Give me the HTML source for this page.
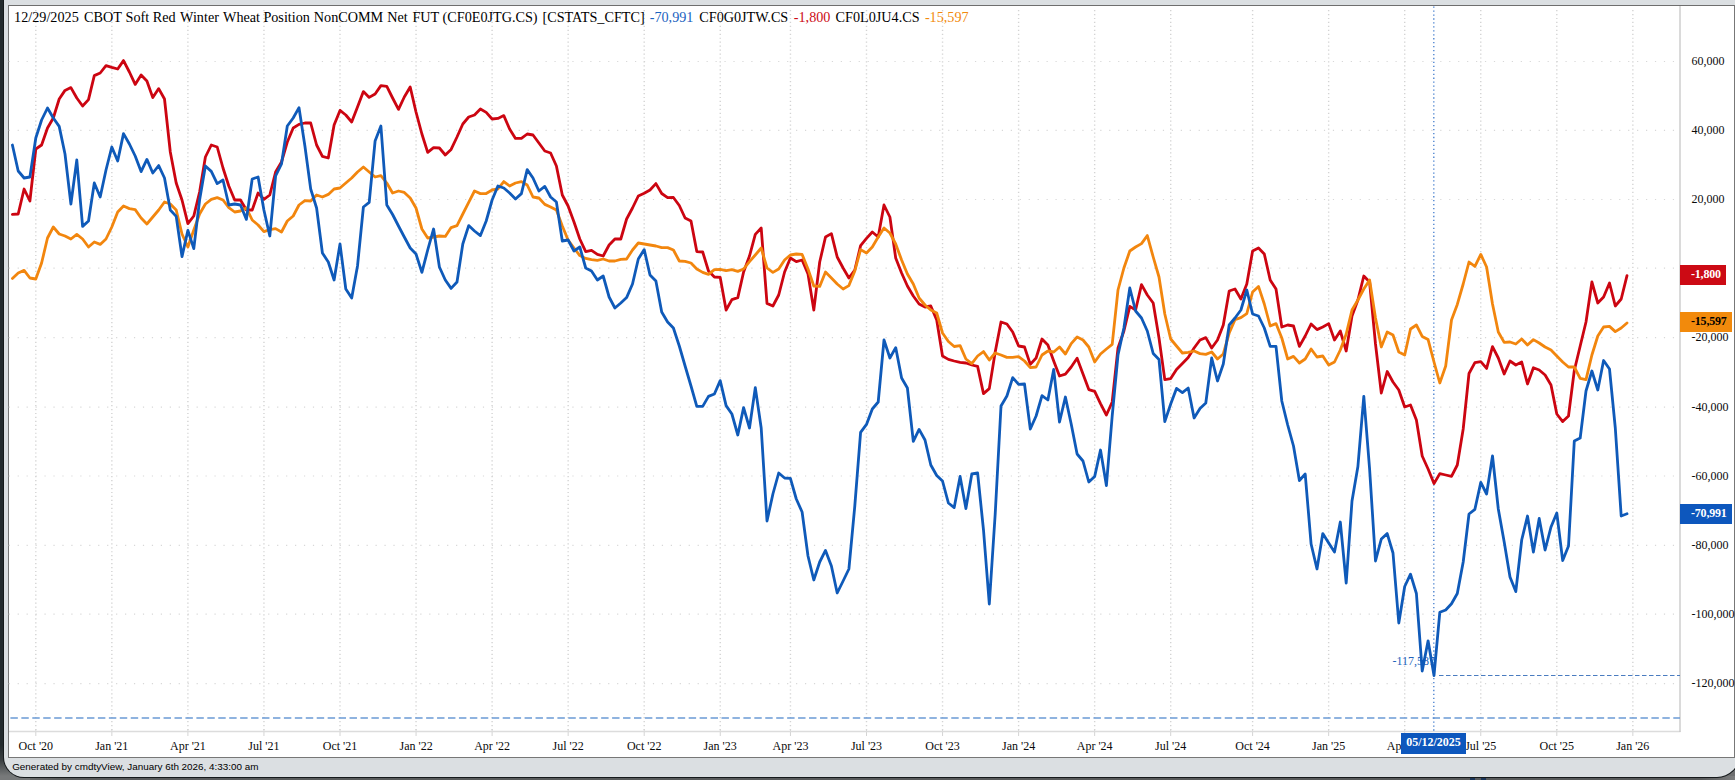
<!DOCTYPE html>
<html><head><meta charset="utf-8"><title>cmdtyView chart</title>
<style>
html,body{margin:0;padding:0}
body{width:1735px;height:780px;overflow:hidden;background:#6e6f70;position:relative;font-family:"Liberation Serif","Times New Roman",serif;}
#win{position:absolute;left:3.8px;top:-2px;width:1735.5px;height:778.7px;background:#dbdfe2;border-radius:0 0 22px 20px;box-shadow:0 0 0 1px #15191b;}
#dark{position:absolute;left:0;top:0;width:30px;height:780px;background:linear-gradient(to bottom,#232a2d 0,#232a2d 745px,#3a3f41 760px,#77797a 776px,#77797a 780px)}
#shade{position:absolute;left:0;top:776px;width:1735px;height:4px;background:linear-gradient(to right,#77797a 0,#5a5c5d 60px,#585a5b 1700px,#7d7e7f 1735px)}
#panel{position:absolute;left:8px;top:5px;width:1726.5px;height:753px;background:#fff;border:1px solid #777;border-top-color:#6e6e6e;box-sizing:border-box}
#title{position:absolute;left:0;top:8.5px;font-size:14.2px;line-height:16px;white-space:pre;color:#000}
#title span{position:absolute;top:0}
.yl{position:absolute;left:1691.5px;font-size:12px;line-height:15px;color:#0a0a0a;white-space:pre}
.xl{position:absolute;top:738.8px;width:80px;text-align:center;font-size:12px;line-height:15px;color:#0a0a0a;white-space:pre}
.badge{position:absolute;left:1680px;height:20px;font-size:12px;font-weight:bold;line-height:18px;box-sizing:border-box;padding-left:11px;white-space:pre;letter-spacing:-0.2px}
#foot{position:absolute;left:12.2px;top:760.3px;font-family:"Liberation Sans",Arial,sans-serif;font-size:9.9px;line-height:13px;color:#000;white-space:pre}
#datebadge{position:absolute;left:1401px;top:733px;width:65px;height:20.5px;background:#0d57bd;color:#fff;font-weight:bold;font-size:12px;line-height:19px;text-align:center;white-space:pre}
#low{position:absolute;left:1392.5px;top:654px;font-size:12px;line-height:15px;color:#1a5cb8;white-space:pre}
</style></head><body>
<div id="shade"></div><div id="dark"></div><div id="win"></div>
<div id="panel"></div>
<svg width="1735" height="780" viewBox="0 0 1735 780" style="position:absolute;left:0;top:0"><line x1="8.7" x2="1676" y1="61.5" y2="61.5" stroke="#d8d8d8" stroke-width="1.2" stroke-dasharray="1.2 7.747"/><line x1="8.7" x2="1676" y1="130.3" y2="130.3" stroke="#d8d8d8" stroke-width="1.2" stroke-dasharray="1.2 7.747"/><line x1="8.7" x2="1676" y1="199.5" y2="199.5" stroke="#d8d8d8" stroke-width="1.2" stroke-dasharray="1.2 7.747"/><line x1="8.7" x2="1676" y1="268.2" y2="268.2" stroke="#d8d8d8" stroke-width="1.2" stroke-dasharray="1.2 7.747"/><line x1="8.7" x2="1676" y1="337.6" y2="337.6" stroke="#d8d8d8" stroke-width="1.2" stroke-dasharray="1.2 7.747"/><line x1="8.7" x2="1676" y1="407.2" y2="407.2" stroke="#d8d8d8" stroke-width="1.2" stroke-dasharray="1.2 7.747"/><line x1="8.7" x2="1676" y1="476" y2="476" stroke="#d8d8d8" stroke-width="1.2" stroke-dasharray="1.2 7.747"/><line x1="8.7" x2="1676" y1="545.3" y2="545.3" stroke="#d8d8d8" stroke-width="1.2" stroke-dasharray="1.2 7.747"/><line x1="8.7" x2="1676" y1="614.2" y2="614.2" stroke="#d8d8d8" stroke-width="1.2" stroke-dasharray="1.2 7.747"/><line x1="8.7" x2="1676" y1="683.7" y2="683.7" stroke="#d8d8d8" stroke-width="1.2" stroke-dasharray="1.2 7.747"/><line x1="35.8" x2="35.8" y1="10" y2="731" stroke="#d3d3d3" stroke-width="1.4" stroke-dasharray="1.2 2.75"/><line x1="35.8" x2="35.8" y1="729" y2="736" stroke="#d4d4d4" stroke-width="1"/><line x1="111.85" x2="111.85" y1="10" y2="731" stroke="#d3d3d3" stroke-width="1.4" stroke-dasharray="1.2 2.75"/><line x1="111.85" x2="111.85" y1="729" y2="736" stroke="#d4d4d4" stroke-width="1"/><line x1="187.9" x2="187.9" y1="10" y2="731" stroke="#d3d3d3" stroke-width="1.4" stroke-dasharray="1.2 2.75"/><line x1="187.9" x2="187.9" y1="729" y2="736" stroke="#d4d4d4" stroke-width="1"/><line x1="263.95" x2="263.95" y1="10" y2="731" stroke="#d3d3d3" stroke-width="1.4" stroke-dasharray="1.2 2.75"/><line x1="263.95" x2="263.95" y1="729" y2="736" stroke="#d4d4d4" stroke-width="1"/><line x1="340.0" x2="340.0" y1="10" y2="731" stroke="#d3d3d3" stroke-width="1.4" stroke-dasharray="1.2 2.75"/><line x1="340.0" x2="340.0" y1="729" y2="736" stroke="#d4d4d4" stroke-width="1"/><line x1="416.05" x2="416.05" y1="10" y2="731" stroke="#d3d3d3" stroke-width="1.4" stroke-dasharray="1.2 2.75"/><line x1="416.05" x2="416.05" y1="729" y2="736" stroke="#d4d4d4" stroke-width="1"/><line x1="492.1" x2="492.1" y1="10" y2="731" stroke="#d3d3d3" stroke-width="1.4" stroke-dasharray="1.2 2.75"/><line x1="492.1" x2="492.1" y1="729" y2="736" stroke="#d4d4d4" stroke-width="1"/><line x1="568.15" x2="568.15" y1="10" y2="731" stroke="#d3d3d3" stroke-width="1.4" stroke-dasharray="1.2 2.75"/><line x1="568.15" x2="568.15" y1="729" y2="736" stroke="#d4d4d4" stroke-width="1"/><line x1="644.2" x2="644.2" y1="10" y2="731" stroke="#d3d3d3" stroke-width="1.4" stroke-dasharray="1.2 2.75"/><line x1="644.2" x2="644.2" y1="729" y2="736" stroke="#d4d4d4" stroke-width="1"/><line x1="720.25" x2="720.25" y1="10" y2="731" stroke="#d3d3d3" stroke-width="1.4" stroke-dasharray="1.2 2.75"/><line x1="720.25" x2="720.25" y1="729" y2="736" stroke="#d4d4d4" stroke-width="1"/><line x1="790.45" x2="790.45" y1="10" y2="731" stroke="#d3d3d3" stroke-width="1.4" stroke-dasharray="1.2 2.75"/><line x1="790.45" x2="790.45" y1="729" y2="736" stroke="#d4d4d4" stroke-width="1"/><line x1="866.5" x2="866.5" y1="10" y2="731" stroke="#d3d3d3" stroke-width="1.4" stroke-dasharray="1.2 2.75"/><line x1="866.5" x2="866.5" y1="729" y2="736" stroke="#d4d4d4" stroke-width="1"/><line x1="942.55" x2="942.55" y1="10" y2="731" stroke="#d3d3d3" stroke-width="1.4" stroke-dasharray="1.2 2.75"/><line x1="942.55" x2="942.55" y1="729" y2="736" stroke="#d4d4d4" stroke-width="1"/><line x1="1018.6" x2="1018.6" y1="10" y2="731" stroke="#d3d3d3" stroke-width="1.4" stroke-dasharray="1.2 2.75"/><line x1="1018.6" x2="1018.6" y1="729" y2="736" stroke="#d4d4d4" stroke-width="1"/><line x1="1094.65" x2="1094.65" y1="10" y2="731" stroke="#d3d3d3" stroke-width="1.4" stroke-dasharray="1.2 2.75"/><line x1="1094.65" x2="1094.65" y1="729" y2="736" stroke="#d4d4d4" stroke-width="1"/><line x1="1170.7" x2="1170.7" y1="10" y2="731" stroke="#d3d3d3" stroke-width="1.4" stroke-dasharray="1.2 2.75"/><line x1="1170.7" x2="1170.7" y1="729" y2="736" stroke="#d4d4d4" stroke-width="1"/><line x1="1252.6" x2="1252.6" y1="10" y2="731" stroke="#d3d3d3" stroke-width="1.4" stroke-dasharray="1.2 2.75"/><line x1="1252.6" x2="1252.6" y1="729" y2="736" stroke="#d4d4d4" stroke-width="1"/><line x1="1328.65" x2="1328.65" y1="10" y2="731" stroke="#d3d3d3" stroke-width="1.4" stroke-dasharray="1.2 2.75"/><line x1="1328.65" x2="1328.65" y1="729" y2="736" stroke="#d4d4d4" stroke-width="1"/><line x1="1404.7" x2="1404.7" y1="10" y2="731" stroke="#d3d3d3" stroke-width="1.4" stroke-dasharray="1.2 2.75"/><line x1="1404.7" x2="1404.7" y1="729" y2="736" stroke="#d4d4d4" stroke-width="1"/><line x1="1480.75" x2="1480.75" y1="10" y2="731" stroke="#d3d3d3" stroke-width="1.4" stroke-dasharray="1.2 2.75"/><line x1="1480.75" x2="1480.75" y1="729" y2="736" stroke="#d4d4d4" stroke-width="1"/><line x1="1556.8" x2="1556.8" y1="10" y2="731" stroke="#d3d3d3" stroke-width="1.4" stroke-dasharray="1.2 2.75"/><line x1="1556.8" x2="1556.8" y1="729" y2="736" stroke="#d4d4d4" stroke-width="1"/><line x1="1632.85" x2="1632.85" y1="10" y2="731" stroke="#d3d3d3" stroke-width="1.4" stroke-dasharray="1.2 2.75"/><line x1="1632.85" x2="1632.85" y1="729" y2="736" stroke="#d4d4d4" stroke-width="1"/><line x1="9" x2="1680.5" y1="731.5" y2="731.5" stroke="#dcdcdc" stroke-width="1.4"/><line x1="1680" x2="1680" y1="6" y2="732" stroke="#c6c6c6" stroke-width="1.3"/><line x1="10.4" x2="1680" y1="718" y2="718" stroke="#6b9bd5" stroke-width="1.7" stroke-dasharray="7.44 3.5"/><line x1="1433.8" x2="1433.8" y1="6.5" y2="731" stroke="#4a82cf" stroke-width="1.35" stroke-dasharray="1.3 2.65"/><text x="1392.5" y="664.8" font-family="Liberation Serif,Times New Roman,serif" font-size="12" fill="#2463bb">-117,587</text><line x1="1439" x2="1680" y1="675.5" y2="675.5" stroke="#4a7cc0" stroke-width="1" stroke-dasharray="4.5 2.5"/><polyline points="12.4,214.4 18.2,214.0 24.1,189.0 29.9,201.0 35.8,149.0 41.6,145.0 47.5,128.0 53.3,118.0 59.2,99.0 65.0,90.4 70.9,87.6 76.8,98.0 82.6,106.0 88.5,99.6 94.3,75.6 100.2,73.0 106.0,65.6 111.8,67.4 117.7,69.0 123.5,60.6 129.4,72.0 135.2,84.4 141.1,75.0 146.9,81.0 152.8,97.6 158.7,88.6 164.5,99.0 170.3,152.0 176.2,183.0 182.0,200.0 187.9,223.6 193.8,216.0 199.6,192.0 205.4,157.0 211.3,145.0 217.2,147.0 223.0,168.0 228.8,186.0 234.7,200.0 240.5,200.0 246.4,210.0 252.2,210.0 258.1,193.0 263.9,199.4 269.8,195.0 275.6,172.0 281.5,162.0 287.3,142.0 293.2,128.0 299.0,124.4 304.9,123.0 310.7,123.0 316.6,145.0 322.4,156.4 328.3,158.0 334.1,125.0 340.0,110.4 345.8,115.0 351.7,122.0 357.5,107.0 363.4,91.6 369.2,97.4 375.1,94.0 380.9,85.6 386.8,86.4 392.6,98.0 398.5,109.4 404.3,97.0 410.2,87.0 416.0,112.0 421.9,134.0 427.7,152.4 433.6,147.6 439.4,148.0 445.3,155.0 451.1,149.4 457.0,137.0 462.8,124.0 468.7,117.0 474.5,115.0 480.4,109.0 486.2,112.4 492.1,119.0 497.9,118.4 503.8,115.6 509.6,129.0 515.5,138.4 521.4,138.4 527.2,134.0 533.0,135.0 538.9,143.0 544.8,151.0 550.6,153.0 556.4,166.0 562.3,195.0 568.1,206.0 574.0,222.0 579.8,239.0 585.7,251.6 591.5,250.4 597.4,254.4 603.2,256.0 609.1,245.0 614.9,239.0 620.8,239.0 626.6,219.0 632.5,208.0 638.3,196.0 644.2,193.3 650.0,190.0 655.9,183.6 661.7,193.5 667.6,197.6 673.4,197.5 679.3,205.5 685.1,218.0 691.0,221.0 696.8,251.6 702.7,252.0 708.5,271.0 714.4,277.0 720.2,277.4 726.1,310.0 731.9,299.6 737.8,297.6 743.6,272.0 749.5,256.0 755.3,234.4 761.2,228.0 767.0,303.4 772.9,306.0 778.7,295.0 784.6,272.0 790.4,258.0 796.3,261.6 802.1,260.0 808.0,274.0 813.8,310.0 819.7,262.0 825.5,237.0 831.4,233.6 837.2,257.0 843.1,268.0 848.9,278.0 854.8,270.0 860.6,245.6 866.5,238.4 872.3,232.0 878.2,237.0 884.0,205.0 889.9,217.0 895.7,258.0 901.6,273.0 907.4,286.0 913.3,296.0 919.1,304.0 925.0,307.0 930.8,306.0 936.7,320.0 942.5,356.0 948.4,359.4 954.2,361.0 960.1,362.4 965.9,363.0 971.8,365.0 977.6,366.4 983.5,393.6 989.3,388.6 995.2,352.0 1001.0,322.0 1006.9,324.0 1012.7,332.0 1018.6,346.0 1024.5,347.0 1030.3,364.4 1036.1,358.0 1042.0,339.0 1047.9,345.0 1053.7,361.0 1059.5,376.0 1065.4,374.2 1071.2,367.0 1077.1,358.2 1083.0,374.0 1088.8,389.6 1094.7,391.4 1100.5,403.6 1106.4,415.0 1112.2,402.0 1118.0,348.0 1123.9,331.0 1129.8,306.4 1135.6,310.0 1141.5,284.6 1147.3,295.0 1153.2,303.0 1159.0,338.0 1164.8,379.6 1170.7,378.6 1176.5,369.5 1182.4,363.5 1188.2,357.5 1194.1,348.0 1200.0,340.0 1205.8,337.6 1211.7,348.0 1217.5,340.0 1223.3,325.0 1229.2,291.0 1235.0,289.0 1240.9,299.0 1246.8,284.0 1252.6,251.0 1258.5,248.0 1264.3,254.0 1270.2,280.0 1276.0,289.0 1281.8,327.0 1287.7,325.0 1293.5,326.0 1299.4,346.4 1305.2,336.0 1311.1,324.0 1317.0,329.6 1322.8,327.0 1328.7,323.6 1334.5,340.0 1340.3,331.0 1346.2,351.0 1352.0,316.0 1357.9,300.0 1363.8,276.0 1369.6,282.0 1375.5,344.0 1381.3,393.0 1387.2,371.5 1393.0,382.0 1398.8,390.0 1404.7,407.0 1410.5,405.0 1416.4,420.0 1422.2,456.0 1428.1,469.0 1434.0,483.6 1439.8,473.6 1445.7,475.0 1451.5,476.4 1457.3,465.0 1463.2,429.0 1469.0,373.5 1474.9,362.7 1480.8,361.6 1486.6,368.4 1492.5,346.6 1498.3,358.0 1504.2,374.0 1510.0,361.0 1515.8,365.0 1521.7,362.0 1527.5,384.0 1533.4,367.8 1539.2,370.0 1545.1,375.0 1551.0,385.0 1556.8,414.0 1562.7,421.6 1568.5,416.0 1574.3,370.5 1580.2,346.0 1586.0,322.0 1591.9,282.0 1597.8,303.0 1603.6,297.0 1609.5,283.0 1615.3,306.0 1621.2,299.0 1627.0,275.6" fill="none" stroke="#cc0511" stroke-width="2.8" stroke-linejoin="round" stroke-linecap="round"/><polyline points="12.4,278.4 18.2,273.0 24.1,270.4 29.9,278.0 35.8,279.0 41.6,263.0 47.5,238.0 53.3,227.0 59.2,234.0 65.0,236.0 70.9,239.0 76.8,234.4 82.6,239.0 88.5,247.0 94.3,242.0 100.2,244.4 106.0,239.0 111.8,227.0 117.7,212.0 123.5,206.0 129.4,208.6 135.2,209.6 141.1,218.0 146.9,224.0 152.8,217.0 158.7,210.0 164.5,202.0 170.3,204.0 176.2,210.0 182.0,234.0 187.9,247.0 193.8,230.0 199.6,214.0 205.4,204.0 211.3,199.4 217.2,197.6 223.0,200.0 228.8,207.6 234.7,212.0 240.5,211.0 246.4,208.0 252.2,220.0 258.1,225.0 263.9,231.6 269.8,229.6 275.6,228.6 281.5,232.0 287.3,221.0 293.2,216.0 299.0,205.0 304.9,200.6 310.7,201.0 316.6,195.0 322.4,197.0 328.3,194.4 334.1,189.0 340.0,188.0 345.8,183.0 351.7,178.0 357.5,172.0 363.4,167.0 369.2,172.0 375.1,177.0 380.9,175.6 386.8,183.0 392.6,193.0 398.5,191.0 404.3,192.4 410.2,198.0 416.0,208.0 421.9,229.0 427.7,238.0 433.6,237.0 439.4,236.0 445.3,236.4 451.1,227.6 457.0,225.6 462.8,214.0 468.7,202.4 474.5,191.0 480.4,193.6 486.2,193.5 492.1,190.0 497.9,189.0 503.8,181.6 509.6,186.0 515.5,183.0 521.4,181.6 527.2,185.0 533.0,197.0 538.9,198.0 544.8,204.4 550.6,207.0 556.4,210.0 562.3,226.0 568.1,240.0 574.0,248.0 579.8,255.6 585.7,258.4 591.5,259.6 597.4,260.4 603.2,259.0 609.1,261.0 614.9,261.0 620.8,259.4 626.6,259.0 632.5,250.0 638.3,243.0 644.2,244.0 650.0,245.0 655.9,246.0 661.7,247.6 667.6,247.6 673.4,250.0 679.3,261.0 685.1,261.4 691.0,263.0 696.8,269.0 702.7,272.4 708.5,274.4 714.4,269.6 720.2,269.4 726.1,270.6 731.9,269.6 737.8,271.4 743.6,269.0 749.5,261.6 755.3,255.0 761.2,248.0 767.0,268.0 772.9,272.4 778.7,269.0 784.6,260.0 790.4,255.0 796.3,254.0 802.1,254.4 808.0,269.0 813.8,286.0 819.7,286.4 825.5,272.0 831.4,278.0 837.2,284.0 843.1,289.0 848.9,285.6 854.8,271.0 860.6,249.6 866.5,253.0 872.3,247.0 878.2,237.0 884.0,228.0 889.9,233.0 895.7,244.0 901.6,260.0 907.4,274.0 913.3,284.0 919.1,298.0 925.0,305.0 930.8,310.0 936.7,313.0 942.5,333.0 948.4,341.5 954.2,346.5 960.1,345.6 965.9,359.0 971.8,363.6 977.6,356.0 983.5,351.6 989.3,360.0 995.2,353.0 1001.0,355.0 1006.9,357.4 1012.7,357.4 1018.6,356.6 1024.5,361.0 1030.3,367.6 1036.1,367.0 1042.0,355.0 1047.9,351.0 1053.7,352.0 1059.5,347.0 1065.4,354.0 1071.2,343.6 1077.1,337.0 1083.0,340.0 1088.8,347.0 1094.7,362.0 1100.5,354.0 1106.4,349.0 1112.2,344.4 1118.0,290.0 1123.9,268.0 1129.8,251.0 1135.6,247.0 1141.5,243.6 1147.3,235.6 1153.2,257.0 1159.0,277.0 1164.8,314.0 1170.7,339.0 1176.5,346.0 1182.4,353.0 1188.2,352.4 1194.1,351.0 1200.0,353.6 1205.8,354.4 1211.7,352.0 1217.5,359.0 1223.3,354.0 1229.2,333.0 1235.0,319.6 1240.9,317.6 1246.8,313.6 1252.6,292.0 1258.5,286.4 1264.3,304.0 1270.2,326.0 1276.0,323.6 1281.8,338.0 1287.7,359.0 1293.5,356.4 1299.4,363.0 1305.2,359.0 1311.1,349.0 1317.0,357.0 1322.8,356.0 1328.7,365.0 1334.5,362.0 1340.3,350.0 1346.2,334.0 1352.0,310.0 1357.9,300.0 1363.8,289.0 1369.6,280.0 1375.5,318.0 1381.3,347.0 1387.2,332.0 1393.0,335.0 1398.8,352.0 1404.7,355.0 1410.5,329.0 1416.4,325.0 1422.2,336.4 1428.1,339.6 1434.0,362.0 1439.8,383.0 1445.7,366.0 1451.5,320.0 1457.3,304.4 1463.2,284.0 1469.0,262.0 1474.9,266.4 1480.8,254.4 1486.6,267.0 1492.5,304.0 1498.3,332.0 1504.2,342.4 1510.0,342.0 1515.8,344.0 1521.7,339.0 1527.5,345.0 1533.4,339.6 1539.2,343.0 1545.1,347.0 1551.0,350.0 1556.8,356.0 1562.7,362.0 1568.5,367.0 1574.3,367.0 1580.2,378.4 1586.0,379.6 1591.9,355.0 1597.8,336.0 1603.6,327.0 1609.5,326.4 1615.3,331.6 1621.2,328.0 1627.0,323.0" fill="none" stroke="#f2860e" stroke-width="2.8" stroke-linejoin="round" stroke-linecap="round"/><polyline points="12.4,145.0 18.2,171.0 24.1,178.0 29.9,177.0 35.8,138.0 41.6,120.0 47.5,108.0 53.3,118.0 59.2,126.4 65.0,154.0 70.9,204.0 76.8,160.0 82.6,226.4 88.5,221.0 94.3,183.0 100.2,197.0 106.0,170.0 111.8,147.0 117.7,161.0 123.5,133.6 129.4,144.0 135.2,156.0 141.1,171.6 146.9,159.4 152.8,173.0 158.7,165.6 164.5,178.0 170.3,210.0 176.2,216.4 182.0,256.6 187.9,230.4 193.8,248.6 199.6,200.0 205.4,166.0 211.3,171.4 217.2,183.6 223.0,180.0 228.8,205.0 234.7,204.0 240.5,205.0 246.4,219.4 252.2,179.0 258.1,177.0 263.9,210.0 269.8,236.0 275.6,176.0 281.5,164.0 287.3,126.0 293.2,118.0 299.0,107.6 304.9,146.0 310.7,189.0 316.6,208.0 322.4,253.0 328.3,262.0 334.1,280.0 340.0,244.0 345.8,289.0 351.7,298.0 357.5,266.0 363.4,207.0 369.2,202.4 375.1,141.0 380.9,126.0 386.8,205.0 392.6,214.5 398.5,226.0 404.3,237.0 410.2,248.0 416.0,254.0 421.9,272.4 427.7,250.0 433.6,229.0 439.4,267.0 445.3,280.0 451.1,288.4 457.0,282.0 462.8,244.0 468.7,225.6 474.5,231.0 480.4,235.6 486.2,221.0 492.1,200.0 497.9,186.0 503.8,188.0 509.6,193.0 515.5,199.0 521.4,193.6 527.2,169.6 533.0,178.0 538.9,191.0 544.8,186.4 550.6,197.0 556.4,202.0 562.3,241.0 568.1,240.0 574.0,251.0 579.8,247.0 585.7,268.0 591.5,271.0 597.4,280.0 603.2,276.0 609.1,297.0 614.9,308.0 620.8,303.0 626.6,297.6 632.5,284.0 638.3,259.0 644.2,249.6 650.0,275.0 655.9,281.0 661.7,312.0 667.6,322.0 673.4,328.0 679.3,346.0 685.1,366.0 691.0,386.0 696.8,406.4 702.7,406.4 708.5,396.4 714.4,394.0 720.2,380.6 726.1,405.6 731.9,414.0 737.8,435.0 743.6,407.6 749.5,428.0 755.3,387.6 761.2,428.0 767.0,521.0 772.9,494.0 778.7,473.0 784.6,478.0 790.4,478.4 796.3,499.0 802.1,512.0 808.0,556.0 813.8,580.0 819.7,562.0 825.5,550.4 831.4,566.0 837.2,593.0 843.1,581.0 848.9,569.0 854.8,506.0 860.6,432.4 866.5,424.4 872.3,409.0 878.2,402.0 884.0,340.0 889.9,358.0 895.7,347.6 901.6,378.0 907.4,388.0 913.3,441.4 919.1,429.4 925.0,440.0 930.8,465.0 936.7,475.5 942.5,481.0 948.4,503.0 954.2,507.6 960.1,476.4 965.9,508.6 971.8,474.0 977.6,473.0 983.5,530.0 989.3,604.0 995.2,514.0 1001.0,406.0 1006.9,396.0 1012.7,377.6 1018.6,384.4 1024.5,384.0 1030.3,429.0 1036.1,416.0 1042.0,395.6 1047.9,400.0 1053.7,369.4 1059.5,422.0 1065.4,397.0 1071.2,424.0 1077.1,454.0 1083.0,461.0 1088.8,482.0 1094.7,476.4 1100.5,450.0 1106.4,485.6 1112.2,416.0 1118.0,355.0 1123.9,328.0 1129.8,288.0 1135.6,311.0 1141.5,318.0 1147.3,331.0 1153.2,353.5 1159.0,359.5 1164.8,421.6 1170.7,404.0 1176.5,388.4 1182.4,392.6 1188.2,388.0 1194.1,418.0 1200.0,408.4 1205.8,403.0 1211.7,358.0 1217.5,381.0 1223.3,364.0 1229.2,325.0 1235.0,318.0 1240.9,310.0 1246.8,290.0 1252.6,314.0 1258.5,316.0 1264.3,328.0 1270.2,346.4 1276.0,346.4 1281.8,401.0 1287.7,425.0 1293.5,446.0 1299.4,480.5 1305.2,474.0 1311.1,544.0 1317.0,569.0 1322.8,533.6 1328.7,543.0 1334.5,552.0 1340.3,522.0 1346.2,583.0 1352.0,501.0 1357.9,466.5 1363.8,396.4 1369.6,469.0 1375.5,561.0 1381.3,539.0 1387.2,533.6 1393.0,553.0 1398.8,623.0 1404.7,586.5 1410.5,574.2 1416.4,593.5 1422.2,671.0 1428.1,640.8 1434.0,675.5 1439.8,612.3 1445.7,610.0 1451.5,603.8 1457.3,593.5 1463.2,562.0 1469.0,514.0 1474.9,509.3 1480.8,482.4 1486.6,494.0 1492.5,456.0 1498.3,509.0 1504.2,542.0 1510.0,577.0 1515.8,591.6 1521.7,540.0 1527.5,516.0 1533.4,552.0 1539.2,518.4 1545.1,550.0 1551.0,527.0 1556.8,513.0 1562.7,560.6 1568.5,546.0 1574.3,441.0 1580.2,438.0 1586.0,391.0 1591.9,371.0 1597.8,390.0 1603.6,360.5 1609.5,369.0 1615.3,428.0 1621.2,516.0 1627.0,513.8" fill="none" stroke="#0f5ab9" stroke-width="2.8" stroke-linejoin="round" stroke-linecap="round"/></svg>
<div id="title"><span style="left:14.1px">12/29/2025</span><span style="left:84.1px">CBOT</span><span style="left:125.6px">Soft</span><span style="left:152.7px">Red</span><span style="left:180.1px">Winter</span><span style="left:223.0px">Wheat</span><span style="left:263.4px">Position</span><span style="left:313.8px">NonCOMM</span><span style="left:387.3px">Net</span><span style="left:412.4px">FUT</span><span style="left:442.6px">(CF0E0JTG.CS)</span><span style="left:542.5px">[CSTATS_CFTC]</span><span style="left:649.7px;color:#1a62c0">-70,991</span><span style="left:699.3px">CF0G0JTW.CS</span><span style="left:793.8px;color:#cc0a14">-1,800</span><span style="left:835.6px">CF0L0JU4.CS</span><span style="left:924.9px;color:#f28a0c">-15,597</span></div>
<div class="yl" style="top:54.0px">60,000</div><div class="yl" style="top:122.8px">40,000</div><div class="yl" style="top:192.0px">20,000</div><div class="yl" style="top:262.2px">0</div><div class="yl" style="top:330.1px">-20,000</div><div class="yl" style="top:399.7px">-40,000</div><div class="yl" style="top:468.5px">-60,000</div><div class="yl" style="top:537.8px">-80,000</div><div class="yl" style="top:606.7px">-100,000</div><div class="yl" style="top:676.2px">-120,000</div><div class="xl" style="left:-4.2px">Oct '20</div><div class="xl" style="left:71.8px">Jan '21</div><div class="xl" style="left:147.9px">Apr '21</div><div class="xl" style="left:223.9px">Jul '21</div><div class="xl" style="left:300.0px">Oct '21</div><div class="xl" style="left:376.1px">Jan '22</div><div class="xl" style="left:452.1px">Apr '22</div><div class="xl" style="left:528.1px">Jul '22</div><div class="xl" style="left:604.2px">Oct '22</div><div class="xl" style="left:680.2px">Jan '23</div><div class="xl" style="left:750.5px">Apr '23</div><div class="xl" style="left:826.5px">Jul '23</div><div class="xl" style="left:902.5px">Oct '23</div><div class="xl" style="left:978.6px">Jan '24</div><div class="xl" style="left:1054.7px">Apr '24</div><div class="xl" style="left:1130.7px">Jul '24</div><div class="xl" style="left:1212.6px">Oct '24</div><div class="xl" style="left:1288.7px">Jan '25</div><div class="xl" style="left:1364.7px">Apr '25</div><div class="xl" style="left:1440.8px">Jul '25</div><div class="xl" style="left:1516.8px">Oct '25</div><div class="xl" style="left:1592.8px">Jan '26</div>
<div class="badge" style="top:264.5px;width:46px;background:#cc0a14;color:#fff">-1,800</div>
<div class="badge" style="top:312px;width:52px;background:#f28a0c;color:#000">-15,597</div>
<div class="badge" style="top:504px;width:52px;background:#0d57bd;color:#fff">-70,991</div>
<div id="datebadge">05/12/2025</div>
<div style="position:absolute;left:1470.3px;top:777.6px;width:4.4px;height:3px;background:#1b3558"></div><div style="position:absolute;left:1481.4px;top:777.6px;width:4.6px;height:3px;background:#1b3558"></div>
<div id="foot">Generated by cmdtyView, January 6th 2026, 4:33:00 am</div>
</body></html>
